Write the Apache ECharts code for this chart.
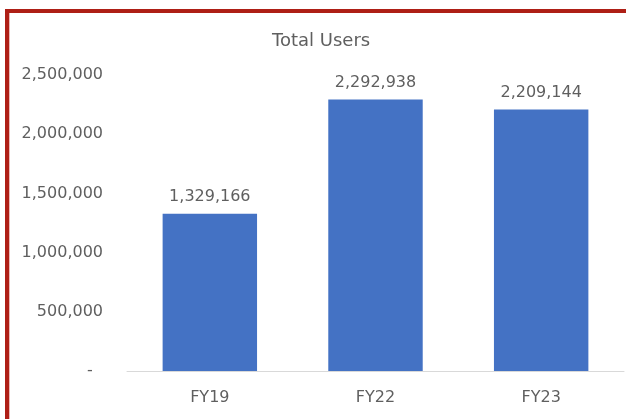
<!DOCTYPE html>
<html>
<head>
<meta charset="utf-8">
<script src="https://cdn.jsdelivr.net/npm/echarts@6/dist/echarts.min.js"></script>
<style>
html,body{margin:0;padding:0;background:#fff;}
#chart{width:626px;height:419px;}
</style>
</head>
<body>
<div id="chart"></div>
<script>
var categories = ['FY19', 'FY22', 'FY23'];
var totalUsers = [1329166, 2292938, 2209144];
var yTicks = [0, 500000, 1000000, 1500000, 2000000, 2500000];

var chart = echarts.init(document.getElementById('chart'), null, {renderer: 'canvas'});
var font = 'DejaVu Sans';
function fmt(v) {
  return v.toString().replace(/\B(?=(\d{3})+(?!\d))/g, ',');
}
chart.setOption({
  backgroundColor: '#ffffff',
  animation: false,
  title: {
    text: 'Total Users',
    left: 267,
    top: 27,
    textStyle: {fontFamily: font, fontSize: 18, fontWeight: 'normal', color: '#5f5f5f'}
  },
  grid: {left: 127, right: 2, top: 75, bottom: 48, containLabel: false},
  xAxis: {
    type: 'category',
    data: categories,
    axisLine: {show: true, lineStyle: {color: '#d9d9d9', width: 1}},
    axisTick: {show: false},
    axisLabel: {fontFamily: font, fontSize: 16, color: '#5f5f5f', margin: 19}
  },
  yAxis: {
    type: 'value',
    min: yTicks[0],
    max: yTicks[yTicks.length - 1],
    interval: yTicks[1] - yTicks[0],
    axisLine: {show: false},
    axisTick: {show: false},
    splitLine: {show: false},
    axisLabel: {
      fontFamily: font, fontSize: 16, color: '#5f5f5f', margin: 24,
      formatter: function (v) { return v === 0 ? '-  ' : fmt(v); }
    }
  },
  series: [{
    type: 'bar',
    data: totalUsers,
    barCategoryGap: '43%',
    itemStyle: {color: '#4472C4'},
    label: {
      show: true, position: 'top', distance: 9,
      fontFamily: font, fontSize: 16, color: '#5f5f5f',
      formatter: function (p) { return fmt(p.value); }
    }
  }],
  graphic: [
    {type: 'rect', shape: {x: 5, y: 9, width: 621, height: 4}, style: {fill: '#AE1F16'}, silent: true},
    {type: 'rect', shape: {x: 5, y: 9, width: 4, height: 410}, style: {fill: '#AE1F16'}, silent: true},
    {type: 'rect', shape: {x: 9, y: 13, width: 1, height: 406}, style: {fill: '#EBB8B5'}, silent: true}
  ]
});
</script>
</body>
</html>
